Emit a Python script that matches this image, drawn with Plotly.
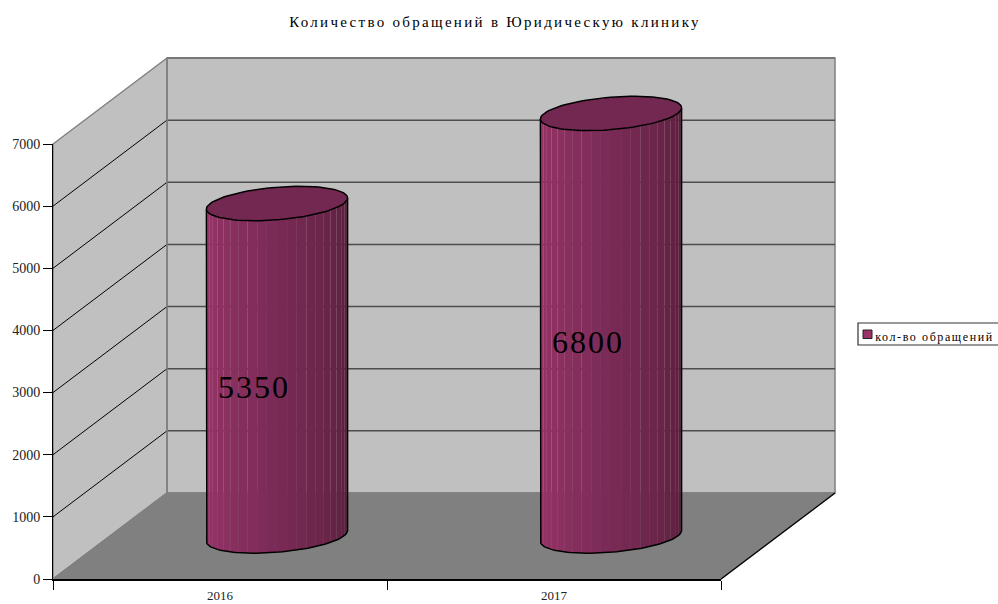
import numpy as np
import plotly.graph_objects as go

TITLE = "Количество обращений в Юридическую клинику"
SERIES = "кол-во обращений"
categories = ["2016", "2017"]
values = [5350, 6800]
y_ticks = [0, 1000, 2000, 3000, 4000, 5000, 6000, 7000]
y_labels = ["0", "1000", "2000", "3000", "4000", "5000", "6000", "7000"]

W, H = 998, 604
L, R, T, B = 53, 721, 144, 579          # front plane of the plot box, px
YMAX = 7000
N = len(categories)
CAT_PX = (R - L) / N
VAL_PX = (B - T) / YMAX
DX = 114 / CAT_PX                       # depth axis in category units
DY = 86 / VAL_PX                        # depth axis in value units
RADIUS = 0.2                            # cylinder radius (category/depth fraction)
FONT = "Liberation Serif"


def proj(cat, val, depth):
    return cat + DX * depth, val + DY * depth


def ring(i, v, angles):
    c = i + 0.5
    xs = c + RADIUS * np.cos(angles)
    ds = 0.5 + RADIUS * np.sin(angles)
    return proj(xs, v, ds)


def mix(a, b, f):
    return "rgb(%d,%d,%d)" % tuple(round(a[k] + (b[k] - a[k]) * f) for k in range(3))


fig = go.Figure()


def poly(xs, ys, fill=None, line=None, width=1):
    fig.add_trace(go.Scatter(
        x=list(xs), y=list(ys), mode="lines", showlegend=False, hoverinfo="skip",
        fill="toself" if fill else "none", fillcolor=fill,
        line=dict(color=line or "rgba(0,0,0,0)", width=width if line else 0),
    ))


def quad(corners, **kw):
    pts = [proj(*c) for c in corners]
    poly([p[0] for p in pts], [p[1] for p in pts], **kw)


GREY, WALL = "#808080", "#C0C0C0"

# back wall, side wall, floor
quad([(0, 0, 1), (N, 0, 1), (N, YMAX, 1), (0, YMAX, 1), (0, 0, 1)], fill=WALL, line=GREY, width=1.5)
quad([(0, 0, 0), (0, 0, 1), (0, YMAX, 1), (0, YMAX, 0), (0, 0, 0)], fill=WALL, line=GREY, width=1.5)
quad([(0, 0, 0), (N, 0, 0), (N, 0, 1), (0, 0, 1), (0, 0, 0)], fill=GREY, line=GREY, width=1.5)
quad([(N, 0, 0), (N, 0, 1)], line="#000000", width=1.2)

# gridlines
for t in y_ticks[1:]:
    if t < YMAX:
        quad([(0, t, 0), (0, t, 1)], line="#000000", width=1)
    quad([(0, t, 1), (N, t, 1)], line="#4d4d4d" if t < YMAX else "#6e6e6e", width=1.5)
quad([(0, 0, 1), (0, YMAX, 1)], line=GREY, width=1.5)

# cylinders
LIGHT, MID, DARK = (155, 52, 105), (125, 44, 88), (90, 30, 60)
SIL = np.arctan2(DX * RADIUS * CAT_PX, RADIUS * CAT_PX)  # silhouette angle
edges = np.linspace(SIL + np.pi, SIL + 2 * np.pi, 23)
for i, v in enumerate(values):
    for k in range(len(edges) - 1):
        a = np.linspace(edges[k], edges[k + 1], 4)
        xb, yb = ring(i, 0, a)
        xt, yt = ring(i, v, a[::-1])
        f = k / (len(edges) - 2)
        col = mix(LIGHT, MID, f / 0.45) if f < 0.45 else mix(MID, DARK, (f - 0.45) / 0.55)
        poly(np.r_[xb, xt, xb[0]], np.r_[yb, yt, yb[0]], fill=col)
    a = np.linspace(SIL + np.pi, SIL + 2 * np.pi, 60)
    xb, yb = ring(i, 0, a)
    xl, yl = ring(i, v, a[:1])
    xr, yr = ring(i, v, a[-1:])
    poly(np.r_[xl, xb, xr], np.r_[yl, yb, yr], line="#000000", width=1.5)
    a = np.linspace(0, 2 * np.pi, 90)
    xt, yt = ring(i, v, a)
    poly(xt, yt, fill="#722850", line="#000000", width=1.5)

# value labels
lx, ly = zip(*[proj(i + 0.503, v / 2 - 40, 0.29) for i, v in enumerate(values)])
fig.add_trace(go.Scatter(
    x=lx, y=ly, mode="text", text=[str(v) for v in values], textposition="middle center",
    textfont=dict(family=FONT, size=32, color="#000000"),
    showlegend=False, hoverinfo="skip",
))

# second pair of axes carries the visible ticks on the front plane
fig.add_trace(go.Scatter(x=[None], y=[None], xaxis="x2", yaxis="y2", showlegend=False, hoverinfo="skip"))

tick_font = dict(family=FONT, size=14, color="#222222")
x_tick_font = dict(family=FONT, size=13, color="#222222")
hidden = dict(visible=False, showgrid=False, zeroline=False)
fig.update_layout(
    width=W, height=H, paper_bgcolor="white", plot_bgcolor="rgba(0,0,0,0)",
    margin=dict(l=0, r=0, t=0, b=0, autoexpand=False),
    title=dict(text=TITLE, x=495 / W, xanchor="center", xref="container",
               y=1 - 22 / H, yanchor="middle", yref="container",
               font=dict(family=FONT, size=15, color="#000000")),
    xaxis=dict(domain=[0, 1], range=[-L / CAT_PX, (W - L) / CAT_PX], **hidden),
    yaxis=dict(domain=[0, 1], range=[-(H - B) / VAL_PX, B / VAL_PX], **hidden),
    xaxis2=dict(domain=[L / W, R / W], anchor="y2", range=[0, N], tickmode="array",
                tickvals=[i + 0.5 for i in range(N)], ticktext=categories,
                ticks="", ticklabelstandoff=4, showgrid=False, zeroline=False,
                showline=True, linecolor="#000000", linewidth=1.5, tickfont=x_tick_font,
                minor=dict(tickmode="array", tickvals=list(range(N + 1)), ticks="outside",
                           ticklen=9, tickcolor="#000000", tickwidth=1, showgrid=False)),
    yaxis2=dict(domain=[(H - B) / H, (H - T) / H], anchor="x2", range=[0, YMAX], tickmode="array",
                tickvals=y_ticks, ticktext=y_labels,
                ticks="outside", ticklen=9, tickcolor="#000000", tickwidth=1, showgrid=False,
                zeroline=False, showline=True, linecolor="#000000", linewidth=1,
                tickfont=tick_font),
    shapes=[
        dict(type="rect", xref="paper", yref="paper", x0=858 / W, x1=1002 / W,
             y0=1 - 345 / H, y1=1 - 323 / H,
             line=dict(color="#333333", width=1.2), fillcolor="white"),
        dict(type="rect", xref="paper", yref="paper", x0=863 / W, x1=872 / W,
             y0=1 - 338.5 / H, y1=1 - 330 / H,
             line=dict(color="#222222", width=1), fillcolor="#993366"),
    ],
    annotations=[
        dict(text=SERIES, xref="paper", yref="paper", x=886 / W, y=1 - 337 / H,
             xanchor="left", yanchor="middle", showarrow=False,
             font=dict(family=FONT, size=12, color="#000000")),
    ],
)

POST = """
document.body.style.margin = '0';
var sp = function(sel, v){ document.querySelectorAll(sel).forEach(function(e){ e.style.letterSpacing = v; }); };
sp('.gtitle', '2.3px'); sp('.annotation-text', '1.6px'); sp('.xtick text', '1.4px'); sp('.ytick text', '1px'); sp('.textpoint text', '2px');
"""
fig.write_html("out.html", post_script=POST, config={"displayModeBar": False})
